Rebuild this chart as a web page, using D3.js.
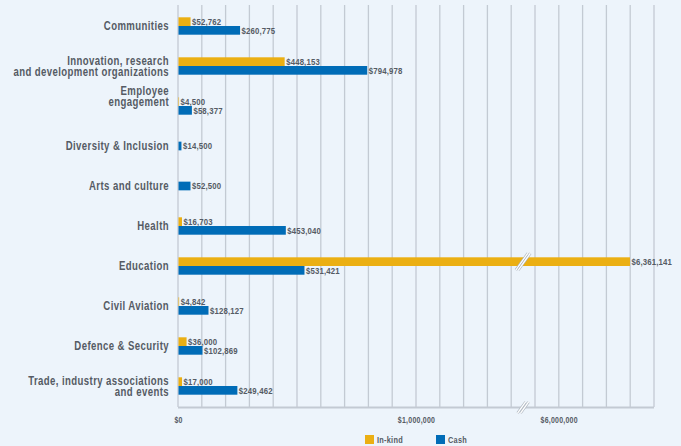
<!DOCTYPE html>
<html>
<head>
<meta charset="utf-8">
<script src="https://cdn.jsdelivr.net/npm/d3@7"></script>
<style>
  html, body { margin: 0; padding: 0; background: #edf4fb; }
  svg { display: block; font-family: "Liberation Sans", Arial, sans-serif; font-weight: bold; }
</style>
</head>
<body>
<div id="chart"></div>
<script>
const categories = ["Communities", "Innovation, research\nand development organizations", "Employee\nengagement",
  "Diversity & Inclusion", "Arts and culture", "Health", "Education", "Civil Aviation",
  "Defence & Security", "Trade, industry associations\nand events"];
const inKind = [52762, 448153, 4500, null, null, 16703, 6361141, 4842, 36000, 17000];
const cash = [260775, 794978, 58377, 14500, 52500, 453040, 531421, 128127, 102869, 249462];
const seriesNames = ["In-kind", "Cash"];
const tickValues = [0, 1000000, 6000000];
const tickLabels = ["$0", "$1,000,000", "$6,000,000"];

const width = 681, height = 446;
const plotLeft = 178, plotRight = 654, plotTop = 6, plotBottom = 406;
const gold = "#ebaf13", blue = "#006cb7", textColor = "#555b64", gridColor = "#c3cad3";
const narrow = 0.82; // squeeze text to look like a narrow face

// grid scale: plain 0 - 2M, lines every 100k
const grid = d3.scaleLinear().domain([0, 2000000]).range([plotLeft, plotRight]);
const breakX = grid(1450000);

// value scale with a break: 0 - 1.45M, then the 6M section
const x = d3.scaleLinear()
  .domain([0, 1450000, 5819700, 6482800])
  .range([plotLeft, breakX, breakX, plotRight]);

const y = d3.scaleBand().domain(categories).range([plotTop, plotBottom]);
const barH = 8.7;

const svg = d3.select("#chart").append("svg")
  .attr("width", width)
  .attr("height", height);

svg.append("g").selectAll("line")
  .data(grid.ticks(20))
  .join("line")
  .attr("x1", d => grid(d)).attr("x2", d => grid(d))
  .attr("y1", plotTop - 1).attr("y2", plotBottom + 1)
  .style("stroke", gridColor)
  .style("stroke-width", 1.3);

// bottom axis line
svg.append("line")
  .attr("x1", plotLeft).attr("x2", plotRight)
  .attr("y1", plotBottom + 1.5).attr("y2", plotBottom + 1.5)
  .style("stroke", gridColor)
  .style("stroke-width", 2);

// tick labels
const axis = d3.axisBottom(x)
  .tickValues(tickValues)
  .tickSize(0)
  .tickPadding(0)
  .tickFormat((d, i) => tickLabels[i]);
const ax = svg.append("g")
  .attr("transform", `translate(0,${plotBottom + 11})`)
  .call(axis);
ax.select(".domain").remove();
ax.selectAll("text")
  .attr("transform", `scale(${narrow},1)`)
  .style("font-family", "Liberation Sans, Arial, sans-serif")
  .style("font-weight", "bold")
  .style("font-size", "8.5px")
  .style("letter-spacing", "0.3px")
  .style("fill", textColor);

// bars
const rows = categories.map((c, i) => ({ cat: c, inKind: inKind[i], cash: cash[i] }));
const bars = [];
rows.forEach(r => {
  const mid = y(r.cat) + y.bandwidth() / 2;
  if (r.inKind == null) {
    bars.push({ v: r.cash, y: mid - barH / 2, color: blue });
  } else {
    bars.push({ v: r.inKind, y: mid - barH, color: gold });
    bars.push({ v: r.cash, y: mid, color: blue });
  }
});

svg.append("g").selectAll("rect")
  .data(bars)
  .join("rect")
  .attr("x", x(0) + 0.5)
  .attr("y", d => d.y)
  .attr("width", d => x(d.v) - x(0) - 0.5)
  .attr("height", barH)
  .style("fill", d => d.color);

svg.append("g").selectAll("text")
  .data(bars)
  .join("text")
  .attr("transform", d => `translate(${x(d.v) + 1.5},${d.y + barH / 2 + 3.2}) scale(${narrow},1)`)
  .text(d => "$" + d3.format(",")(d.v))
  .style("font-size", "9.5px")
  .style("letter-spacing", "0.2px")
  .style("fill", textColor);

// break marks
function breakMark(cx, cy, len, gap) {
  const g = svg.append("g");
  [-gap / 2, gap / 2].forEach(o => {
    g.append("line")
      .attr("x1", cx - len / 2 + o).attr("y1", cy + len * 0.7)
      .attr("x2", cx + len / 2 + o).attr("y2", cy - len * 0.7)
      .style("stroke", "#aab3bd").style("stroke-width", 2.6);
    g.append("line")
      .attr("x1", cx - len / 2 + o).attr("y1", cy + len * 0.7)
      .attr("x2", cx + len / 2 + o).attr("y2", cy - len * 0.7)
      .style("stroke", "#ffffff").style("stroke-width", 1.4);
  });
}
const eduMid = y("Education") + y.bandwidth() / 2 - barH / 2;
breakMark(breakX, eduMid, 12, 2.5);
breakMark(breakX, plotBottom + 1.5, 8, 3);

// category labels
const labelShift = { "Employee\nengagement": -10 };
const lab = svg.append("g").selectAll("text")
  .data(categories)
  .join("text")
  .attr("text-anchor", "end")
  .attr("transform", d => {
    const lines = d.split("\n").length;
    const mid = y(d) + y.bandwidth() / 2 + (labelShift[d] || 0);
    return `translate(169,${mid - (lines - 1) * 5.6 + 4.2}) scale(0.8,1)`;
  })
  .style("font-size", "12px")
  .style("letter-spacing", "0.5px")
  .style("fill", textColor);
lab.each(function (d) {
  d3.select(this).selectAll("tspan")
    .data(d.split("\n"))
    .join("tspan")
    .attr("x", 0)
    .attr("dy", (t, i) => i === 0 ? 0 : 11.3)
    .text(t => t);
});

// legend
const legend = svg.append("g").selectAll("g")
  .data(seriesNames)
  .join("g")
  .attr("transform", (d, i) => `translate(${365 + i * 71},435)`);
legend.append("rect")
  .attr("width", 9).attr("height", 9)
  .style("fill", (d, i) => i === 0 ? gold : blue);
legend.append("text")
  .attr("transform", `translate(12,7.5) scale(${narrow},1)`)
  .text(d => d)
  .style("font-size", "9px")
  .style("letter-spacing", "0.3px")
  .style("fill", textColor);
</script>
</body>
</html>
